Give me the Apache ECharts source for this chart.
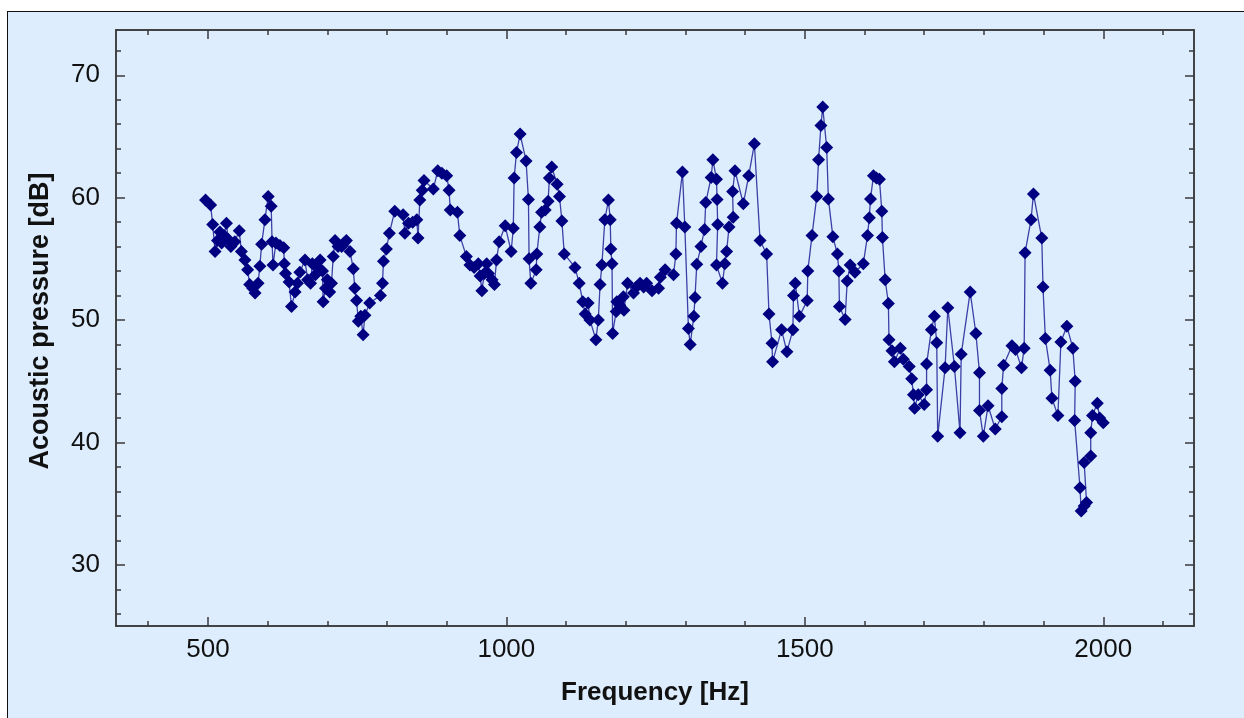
<!DOCTYPE html>
<html><head><meta charset="utf-8">
<script src="https://cdn.jsdelivr.net/npm/echarts@6/dist/echarts.min.js"></script>
<style>
html,body{margin:0;padding:0;background:#fff;width:1244px;height:718px;overflow:hidden}
#panel{position:absolute;left:7px;top:11px;right:0;bottom:0;background:#DDEDFD;border-left:1px solid #111;border-top:1px solid #111}
#chart{position:absolute;left:0;top:0;width:1244px;height:718px}
</style></head><body>
<div id="panel"></div><div id="chart"></div>
<script>
const freqHz = [
496,504.5,508,512,516,520,523,527,531,534,538.5,545,552.5,556,562,566.5,570,575,579,584,587,590,595.5,601,606,607.5,609,614,620.7,627,628,630,636,640,646,650,654,662.6,
667,672,675,680,684,688,692,693,697,700,704,707,710,713,718,724,728,732,738,743.5,746,749,752,756,760,763,771,789,792.5,794,799,804,813,827,830,836,843,850,852,855,859,862,
877.6,885,892,900,904,906,918,922,933,939,946,953,956,959,963,967,970,976,980,983.5,988,998,1008,1011.6,1013,1017,1023,1033,1037,1038,1041,1050,1051,1056,1059,
1065,1070,1072,1076,1085,1089,1093,1097,1115,1122,1128,1132,1137,1140,1150,1154,1157,1160,1165,1171,1174,1175,1177,1178,1184,1185,1190,1196,1197,1203,1213,1218,1224,1230,1235,1244,1255,1258,
1266,1280,1284,1285,1295,1299,1305,1308,1314,1316,1319,1326,1332,1334,1343,1346,1352,1353,1354,1352,1362,1366,1369,1373,1380,1379,1383,1397,1406,1415.5,1425,1436,1440,1445,1446,
1461,1470,1480,1481,1484,1491,1504,1505,1512,1520,1523,1527,1530,1536.6,1539.5,1547,1554.6,1557,1558,1567.5,1571,1576,1584,1598,1605,1608,1610,1615,1620,1625,1629,1630,1634.6,1640,
1641,1646,1650,1660,1665,1675,1679,1682,1684,1690,1700,1704,1704,1712,1717,1721,1722.6,1735,1739.6,1750.6,1760,1762,1777,1786.6,1792.6,1792.6,1799,1807,1819,1830,1830,1833,
1847,1853,1863,1867.5,1869,1879,1883,1897,1899,1903,1911,1914,1924,1929,1939,1949,1953,1952,1961,1963,1968,1972,1968,1979,1979,1982,1990,1994,2000
];
const pressureDb = [
59.8,59.4,57.8,55.6,56.5,57.2,56.3,56.9,57.9,56.6,56.0,56.4,57.3,55.6,54.9,54.1,52.9,52.6,52.2,53.0,54.4,56.2,58.2,60.1,59.3,56.4,54.5,56.3,56.1,55.9,54.6,53.8,53.1,51.1,52.3,53.0,53.9,54.9,
53.3,53.0,54.6,53.7,54.3,54.9,54.0,51.5,52.6,53.3,52.3,53.0,55.2,56.5,56.0,56.0,56.3,56.5,55.6,54.2,52.6,51.6,49.9,50.3,48.8,50.4,51.4,52.0,53.0,54.8,55.8,57.1,58.9,58.6,57.1,57.9,58.0,58.2,56.7,59.8,60.6,61.4,
60.7,62.2,62.0,61.8,60.6,59.0,58.8,56.9,55.2,54.5,54.3,54.6,53.6,52.4,53.8,54.6,53.8,53.3,52.9,54.9,56.4,57.7,55.6,57.5,61.6,63.7,65.2,63.0,59.85,55.0,53.0,54.1,55.4,57.6,58.8,
59.0,59.7,61.6,62.5,61.1,60.1,58.1,55.4,54.3,53.0,51.5,50.5,51.4,50.0,48.4,50.0,52.9,54.5,58.2,59.8,58.2,55.8,54.6,48.9,50.7,51.5,51.2,51.9,50.8,53.0,52.2,52.7,53.0,52.7,53.0,52.4,52.6,53.5,
54.1,53.7,55.4,57.9,62.1,57.6,49.3,48.0,50.3,51.85,54.55,56.0,57.4,59.6,61.65,63.1,61.5,59.85,57.8,54.5,53.0,54.6,55.6,57.6,58.4,60.5,62.2,59.5,61.8,64.4,56.5,55.4,50.5,48.1,46.6,
49.2,47.4,49.2,52.0,53.0,50.3,51.6,54.0,56.9,60.1,63.1,65.9,67.4,64.1,59.9,56.8,55.4,54.0,51.1,50.05,53.2,54.5,53.9,54.6,56.9,58.35,59.9,61.8,61.6,61.5,58.9,56.75,53.3,51.35,
48.4,47.5,46.6,47.7,46.8,46.2,45.2,43.9,42.8,43.9,43.1,44.3,46.4,49.2,50.3,48.15,40.5,46.1,51.0,46.2,40.8,47.2,52.3,48.9,45.7,42.6,40.5,43.0,41.1,42.1,44.4,46.3,
47.9,47.6,46.1,47.7,55.5,58.2,60.3,56.7,52.7,48.5,45.9,43.6,42.2,48.2,49.5,47.7,45.0,41.8,36.3,34.4,34.8,35.1,38.35,38.9,40.8,42.2,43.2,42.0,41.6
];
const xMajorTicks = [500,1000,1500,2000];
const xMinorTicks = [400,600,700,800,900,1100,1200,1300,1400,1600,1700,1800,1900,2100];
const yMajorTicks = [30,40,50,60,70];
const yMinorTicks = [26,28,32,34,36,38,42,44,46,48,52,54,56,58,62,64,66,68,72];
const xTitle = 'Frequency [Hz]';
const yTitle = 'Acoustic pressure [dB]';

const XMIN = 346, XMAX = 2152, YMIN = 25, YMAX = 73.7;
const FONT = 'Liberation Sans, Arial, sans-serif';
const AXC = '#3a3a3a';
const plain = v => String(v);

function axis(kind, pos, ticks, len, withLabels, extra) {
  const a = {
    type: 'value',
    min: kind === 'x' ? XMIN : YMIN,
    max: kind === 'x' ? XMAX : YMAX,
    position: pos,
    splitLine: { show: false },
    axisLine: { show: true, onZero: false, lineStyle: { color: AXC, width: 1.5 } },
    axisTick: { show: true, inside: true, length: len, customValues: ticks, lineStyle: { color: AXC, width: 1.5 } },
    axisLabel: { show: withLabels, customValues: ticks, formatter: plain, fontSize: 26, color: '#111', fontFamily: FONT }
  };
  return Object.assign(a, extra || {});
}

const data = freqHz.map((f, i) => [f, pressureDb[i]]);

const chart = echarts.init(document.getElementById('chart'), null, { renderer: 'canvas' });
chart.setOption({
  animation: false,
  backgroundColor: 'transparent',
  grid: { left: 116, top: 30, right: 50, bottom: 92, containLabel: false },
  xAxis: [
    axis('x', 'bottom', xMajorTicks, 9, true, {
      name: xTitle, nameLocation: 'middle', nameGap: 54,
      nameTextStyle: { fontSize: 26, fontWeight: 'bold', color: '#111', fontFamily: FONT },
      axisLabel: { show: true, customValues: xMajorTicks, formatter: plain, fontSize: 26, color: '#111', fontFamily: FONT, margin: 11 }
    }),
    axis('x', 'bottom', xMinorTicks, 5, false),
    axis('x', 'top', xMajorTicks, 9, false),
    axis('x', 'top', xMinorTicks, 5, false)
  ],
  yAxis: [
    axis('y', 'left', yMajorTicks, 9, true, {
      name: yTitle, nameLocation: 'middle', nameGap: 62, nameRotate: 90,
      nameTextStyle: { fontSize: 27, fontWeight: 'bold', color: '#111', fontFamily: FONT, padding: [0, 0, 0, 14] },
      axisLabel: { show: true, customValues: yMajorTicks, formatter: plain, fontSize: 26, color: '#111', fontFamily: FONT, margin: 16, padding: [0, 0, 10, 0] }
    }),
    axis('y', 'left', yMinorTicks, 5, false),
    axis('y', 'right', yMajorTicks, 9, false),
    axis('y', 'right', yMinorTicks, 5, false)
  ],
  series: [{
    type: 'line',
    xAxisIndex: 0, yAxisIndex: 0,
    data: data,
    symbol: 'diamond',
    symbolSize: 13,
    showAllSymbol: true,
    itemStyle: { color: '#000080' },
    lineStyle: { color: '#3b3fa6', width: 1.3 },
    emphasis: { disabled: true }
  }]
});
</script>
</body></html>
